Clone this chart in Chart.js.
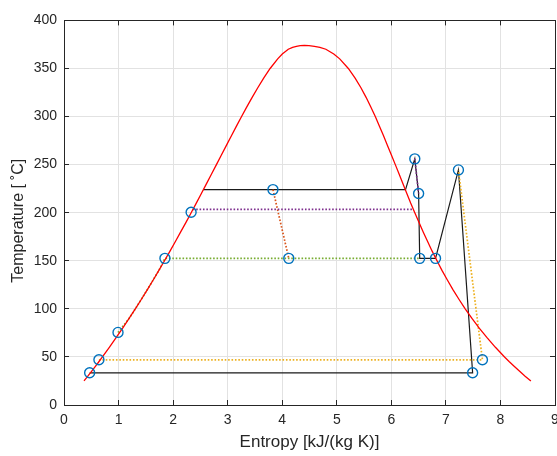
<!DOCTYPE html>
<html><head><meta charset="utf-8">
<script src="https://cdn.jsdelivr.net/npm/chart.js@4"></script>
<style>html,body{margin:0;padding:0;overflow:hidden;background:#fff;}#wrap{width:557px;height:456px;overflow:hidden;}</style>
</head><body><div id="wrap"><canvas id="c" width="600" height="456" style="width:600px;height:456px"></canvas></div>
<script>
// Saturation dome (entropy, temperature)
const domeS = [0.367,0.437,0.505,0.572,0.639,0.704,0.831,0.955,1.076,1.193,1.307,1.419,1.528,1.635,1.739,1.842,1.943,2.042,2.139,2.236,2.331,2.425,2.518,2.610,2.702,2.794,2.885,2.977,3.069,3.161,3.255,3.351,3.449,3.552,3.660,3.778,3.917,4.001,4.111,4.19,4.26,4.33,4.407,4.49,4.59,4.69,4.800,4.945,5.054,5.212,5.336,5.443,5.537,5.624,5.706,5.782,5.857,5.929,6.001,6.073,6.144,6.213,6.284,6.354,6.430,6.506,6.584,6.665,6.748,6.837,6.928,7.027,7.129,7.239,7.354,7.478,7.611,7.754,7.908,8.075,8.163,8.256,8.352,8.452,8.558];
const domeT = [25,30,35,40,45,50,60,70,80,90,100,110,120,130,140,150,160,170,180,190,200,210,220,230,240,250,260,270,280,290,300,310,320,330,340,350,360,365,370,372,373,373.7,373.95,373.7,373,372,370,365,360,350,340,330,320,310,300,290,280,270,260,250,240,230,220,210,200,190,180,170,160,150,140,130,120,110,100,90,80,70,60,50,45,40,35,30,25];
// State points
const stateS = [0.47,0.64,0.99,1.85,2.33,3.83,4.12,6.43,6.50,6.52,6.81,7.23,7.49,7.67];
const stateT = [33.5,47,75.5,152.5,200.5,224,152.5,256,220,152.5,152.5,244.5,33.5,47];
// Cycle (solid black)
const cycleS = [2.55,6.26,6.43,6.50,6.52,6.81,7.23,7.49,0.47];
const cycleT = [224,224,256,220,152.5,152.5,244.5,33.5,33.5];
// Dotted paths
const yellowS = [0.64,7.67,7.23];
const yellowT = [47,47,244.5];
const greenS = [0.99,1.193,1.307,1.528,1.739,1.85,6.52];
const greenT = [75.5,90,100,120,140,152.5,152.5];
const purpleS = [2.36,6.40];
const purpleT = [203.5,203.5];
const purple2S = [6.43,6.50];
const purple2T = [256,220];
const orangeS = [3.83,4.12];
const orangeT = [224,152.5];
// Ticks
const xTicks = [0,1,2,3,4,5,6,7,8,9];
const yTicks = [0,50,100,150,200,250,300,350,400];

const pts = (s, t) => s.map((v, i) => ({x: v, y: t[i]}));
const AX = '#262626', GRID = '#e2e2e2';
const FONT = "'Liberation Sans', Arial, Helvetica, sans-serif";
const dotted = (data, color) => ({data, showLine: true, borderColor: color, borderWidth: 1.7, borderDash: [1.6, 1.8], pointRadius: 0, tension: 0, fill: false});

const baseScale = (min, max, step) => ({
  type: 'linear', min, max,
  ticks: {stepSize: step, color: AX, font: {family: FONT, size: 14}, padding: 12},
  grid: {color: GRID, tickColor: AX, tickLength: -5, lineWidth: 1},
  border: {color: AX, width: 1}
});

const xS = baseScale(0, 9, 1);
xS.position = 'bottom';
xS.afterBuildTicks = s => { s.ticks = xTicks.map(v => ({value: v})); };
xS.title = {display: true, text: 'Entropy [kJ/(kg K)]', color: AX, font: {family: FONT, size: 17}, padding: {top: 0, bottom: 3}};
xS.afterFit = s => { s.height = 51; };

const yS = baseScale(0, 400, 50);
yS.position = 'left';
yS.afterBuildTicks = s => { s.ticks = yTicks.map(v => ({value: v})); };
yS.title = {display: true, text: 'Temperature [\u2005˚C]\u2002\u2002', color: AX, font: {family: FONT, size: 16}, padding: {top: 9, bottom: 0}};
yS.afterFit = s => { s.width = 64; };

const x2 = baseScale(0, 9, 1);
x2.position = 'top';
x2.afterBuildTicks = s => { s.ticks = xTicks.map(v => ({value: v})); };
x2.ticks.display = false;
x2.grid.drawOnChartArea = false;
x2.afterFit = s => { s.height = 0; };

const y2 = baseScale(0, 400, 50);
y2.position = 'right';
y2.afterBuildTicks = s => { s.ticks = yTicks.map(v => ({value: v})); };
y2.ticks.display = false;
y2.grid.drawOnChartArea = false;
y2.afterFit = s => { s.width = 0; };

new Chart(document.getElementById('c'), {
  type: 'scatter',
  data: {
    datasets: [
      {data: pts(stateS, stateT), showLine: false, pointStyle: 'circle', pointRadius: 5, pointHoverRadius: 5, borderColor: '#0072BD', backgroundColor: 'rgba(0,0,0,0)', borderWidth: 1.4},
      {data: pts(domeS, domeT), showLine: true, borderColor: '#ff0000', borderWidth: 1.3, pointRadius: 0, tension: 0},
      dotted(pts(yellowS, yellowT), '#EDB120'),
      dotted(pts(greenS, greenT), '#77AC30'),
      dotted(pts(purpleS, purpleT), '#7E2F8E'),
      dotted(pts(purple2S, purple2T), '#7E2F8E'),
      dotted(pts(orangeS, orangeT), '#D95319'),
      {data: pts(cycleS, cycleT), showLine: true, borderColor: '#1a1a1a', borderWidth: 1.2, pointRadius: 0, tension: 0}
    ]
  },
  options: {
    responsive: false, animation: false,
    layout: {padding: {top: 14, right: 45, left: 0, bottom: 0}},
    plugins: {legend: {display: false}, tooltip: {enabled: false}},
    scales: {x: xS, y: yS, x2, y2}
  }
});
</script></body></html>
